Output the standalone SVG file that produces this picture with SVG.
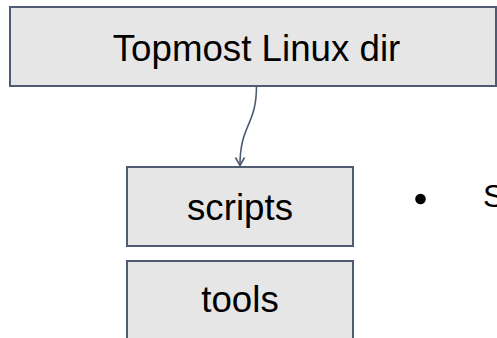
<svg xmlns="http://www.w3.org/2000/svg" width="497" height="338" viewBox="0 0 497 338">
  <style>
    .box { fill: #e6e6e6; stroke: #4f5b74; stroke-width: 2; }
    .label { font-family: "Liberation Sans", Arial, sans-serif; font-size: 36.7px; fill: #000; text-anchor: middle; }
    .conn { fill: none; stroke: #4f5b74; stroke-width: 1.6; }
  </style>
  <defs>
    <marker id="arrow" markerWidth="12" markerHeight="12" refX="10" refY="6" orient="auto" markerUnits="userSpaceOnUse">
      <path d="M2,1.5 L10,6 L2,10.5" fill="none" stroke="#4f5b74" stroke-width="1.6" stroke-linejoin="miter"/>
    </marker>
  </defs>

  <rect width="497" height="338" fill="#ffffff"/>

  <g id="node-topmost">
    <rect class="box" x="10" y="7" width="486" height="79"/>
    <text class="label" x="256.5" y="61">Topmost Linux dir</text>
  </g>

  <g id="node-scripts">
    <rect class="box" x="127" y="167" width="226" height="79"/>
    <text class="label" x="240" y="220">scripts</text>
  </g>

  <g id="node-tools">
    <rect class="box" x="127" y="261" width="226" height="79"/>
    <text class="label" x="240" y="312">tools</text>
  </g>

  <g id="bullet-list">
    <circle cx="420.5" cy="199" r="5.3" fill="#000"/>
    <text x="483" y="206.5" font-family="'Liberation Sans', Arial, sans-serif" font-size="32px" fill="#000">S</text>
  </g>

  <g id="connectors">
    <path class="conn" d="M256.5,86 C256.5,126 240,124 240,165.5" marker-end="url(#arrow)"/>
  </g>
</svg>
